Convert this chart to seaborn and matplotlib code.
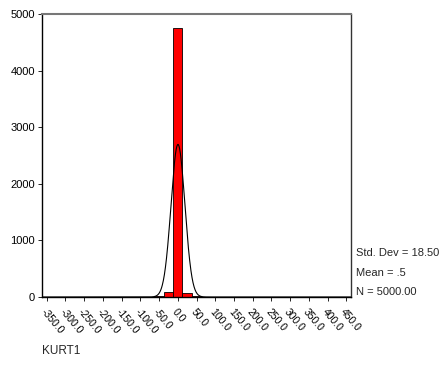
import numpy as np
import pandas as pd
import matplotlib
matplotlib.use("Agg")
import matplotlib.pyplot as plt
import seaborn as sns

# Histogram bins (width 25) and counts
bin_centers = [-50.0, -25.0, 0.0, 25.0, 50.0]
counts = [20, 80, 4750, 75, 25]
bin_width = 25.0
x_ticks = [-350, -300, -250, -200, -150, -100, -50, 0, 50, 100, 150, 200, 250, 300, 350, 400, 450]
y_ticks = [0, 1000, 2000, 3000, 4000, 5000]
std_dev = 18.50
mean_val = 0.5
n_total = 5000
var_name = "KURT1"

sns.set_theme(style="white")
plt.rcParams['font.family'] = ['Liberation Sans', 'DejaVu Sans']

fig = plt.figure(figsize=(4.4, 3.68), dpi=100)
ax = fig.add_axes([42/440, 1 - 297/368, (351 - 42)/440, (297 - 14)/368])

df = pd.DataFrame({"x": bin_centers, "count": counts})
sns.histplot(data=df, x="x", weights="count", binwidth=bin_width,
             binrange=(-62.5, 62.5), color="#ff0000", alpha=1.0,
             edgecolor="black", linewidth=0.6, ax=ax)

xs = np.linspace(-362.5, 462.5, 1200)
ys = n_total * bin_width / (std_dev * np.sqrt(2 * np.pi)) * np.exp(-0.5 * ((xs - mean_val) / std_dev) ** 2)
sns.lineplot(x=xs, y=ys, color="black", linewidth=0.8, ax=ax)

ax.set_xlim(-362.5, 462.5)
ax.set_ylim(0, 5000)
ax.set_xticks(x_ticks)
ax.set_xticklabels([f"{v:.1f}" for v in x_ticks], rotation=-50, ha="left", va="top",
                   rotation_mode="anchor", fontsize=7.5)
ax.set_yticks(y_ticks)
ax.set_yticklabels([str(v) for v in y_ticks], fontsize=8)
ax.tick_params(axis="both", which="both", direction="out", length=3, width=0.6,
               colors="black", pad=2, bottom=True, left=True)
ax.tick_params(axis="x", pad=4)
ax.set_xlabel("")
ax.set_ylabel("")

for s in ["left", "bottom", "right"]:
    ax.spines[s].set_visible(True)
    ax.spines[s].set_color("black")
    ax.spines[s].set_linewidth(1.0)
ax.spines["right"].set_color("#333333")
ax.spines["top"].set_visible(True)
ax.spines["top"].set_color("#777777")
ax.spines["top"].set_linewidth(1.5)

fig.text(356/440, 1 - 253/368, f"Std. Dev = {std_dev:.2f}", fontsize=8, va="center", ha="left")
fig.text(356/440, 1 - 273/368, "Mean = .5", fontsize=8, va="center", ha="left")
fig.text(356/440, 1 - 292/368, f"N = {n_total:.2f}", fontsize=8, va="center", ha="left")
fig.text(42/440, 1 - 351/368, var_name, fontsize=8.5, va="center", ha="left")

fig.savefig("out.png", dpi=100)
